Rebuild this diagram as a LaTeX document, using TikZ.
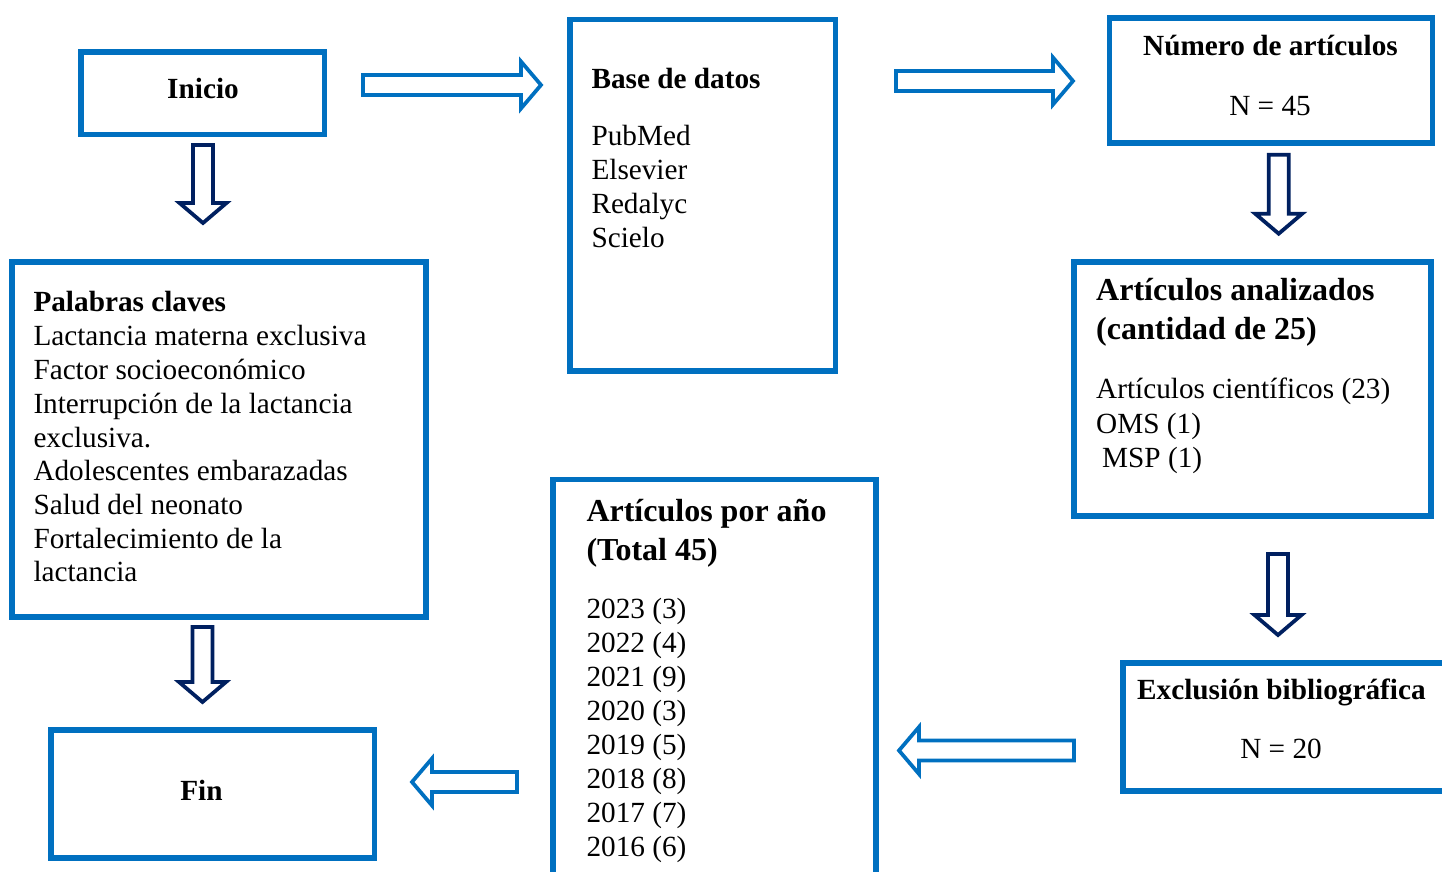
\documentclass[tikz,border=0pt]{standalone}
\usepackage{fontspec}
\setmainfont{Liberation Serif}
\usetikzlibrary{fit}
\definecolor{boxblue}{HTML}{0070C0}
\definecolor{navyblue}{HTML}{002060}
\tikzset{
    box/.style={draw=boxblue, line width=2.2pt, inner sep=0pt},
    txt/.style={anchor=base west, inner sep=0pt, font=\fontsize{11.7}{14}\selectfont},
    ttl/.style={txt, font=\fontsize{11.7}{14}\selectfont\bfseries},
    bigttl/.style={txt, font=\fontsize{12.8}{15}\selectfont\bfseries},
    blockarrow/.style={line width=1.5pt, miter limit=10},
}
% block arrow: tail x, tail y, angle, length, colour
\newcommand{\FlowArrow}[5]{
    \draw[blockarrow, draw=#5, shift={(#1,#2)}, rotate=#3]
    (0,-10) -- ({#4-20},-10) -- ({#4-20},-23.5) -- (#4,0) -- ({#4-20},23.5) -- ({#4-20},10) -- (0,10) -- cycle;
}

\begin{document}
\begin{tikzpicture}[x=0.4pt, y=-0.4pt]
    \useasboundingbox (0,0) rectangle (1442,872);

    % boxes
    \node[box, fit={(81,52) (324.5,134.7)}] (inicio) {};
    \node[box, fit={(570,19.7) (835.7,371)}] (bases) {};
    \node[box, fit={(1109.7,18) (1432.5,143)}] (numero) {};
    \node[box, fit={(12,262) (426,617)}] (palabras) {};
    \node[box, fit={(1074,262) (1431,516)}] (analizados) {};
    \node[box, fit={(1123,663) (1470,791)}] (exclusion) {};
    \node[box, fit={(553,479.5) (876,900)}] (anio) {};
    \node[box, fit={(51,730) (374.5,858)}] (fin) {};

    % texts
    \node[ttl, anchor=base] (t-ini) at (203,98.3) {Inicio};

    \node[ttl] (t-bd) at (591,89) {Base de datos};
    \foreach \w [count=\i] in {PubMed, Elsevier, Redalyc, Scielo}
        \node[txt] (bd\i) at (591,{145.7+34*(\i-1)}) {\w};

    \node[ttl, anchor=base] (t-num) at (1270.5,56) {Número de artículos};
    \node[txt, anchor=base] (n-num) at (1270,116) {N = 45};

    \node[ttl] (t-pc) at (33,312) {Palabras claves};
    \foreach \w [count=\i] in {Lactancia materna exclusiva, Factor socioeconómico,
        Interrupción de la lactancia, exclusiva., Adolescentes embarazadas,
        Salud del neonato, Fortalecimiento de la, lactancia}
        \node[txt] (pc\i) at (33,{346+33.7*(\i-1)}) {\w};

    \node[bigttl] (t-an1) at (1095.7,300.7) {Artículos analizados};
    \node[bigttl] (t-an2) at (1095.7,340) {(cantidad de 25)};
    \node[txt] (an1) at (1095.7,399) {Artículos científicos (23)};
    \node[txt] (an2) at (1095.7,433.3) {OMS (1)};
    \node[txt] (an3) at (1101.7,467.3) {MSP (1)};

    \node[ttl] (t-ex) at (1136.7,700) {Exclusión bibliográfica};
    \node[txt, anchor=base] (n-ex) at (1281,758.3) {N = 20};

    \node[bigttl] (t-pa1) at (586,521.7) {Artículos por año};
    \node[bigttl] (t-pa2) at (586,560.7) {(Total 45)};
    \foreach \w [count=\i] in {2023 (3), 2022 (4), 2021 (9), 2020 (3),
        2019 (5), 2018 (8), 2017 (7), 2016 (6)}
        \node[txt] (pa\i) at (586,{618.3+33.96*(\i-1)}) {\w};

    \node[ttl, anchor=base] (t-fin) at (201.5,800) {Fin};

    % arrows
    \FlowArrow{363}{85}{0}{178}{boxblue}
    \FlowArrow{896}{81}{0}{177}{boxblue}
    \FlowArrow{203}{145}{-90}{78}{navyblue}
    \FlowArrow{1278.7}{154.7}{-90}{79}{navyblue}
    \FlowArrow{1278}{554}{-90}{81}{navyblue}
    \FlowArrow{202.5}{627}{-90}{75}{navyblue}
    \FlowArrow{1074}{750.5}{180}{175}{boxblue}
    \FlowArrow{517}{782}{180}{105}{boxblue}
\end{tikzpicture}
\end{document}
